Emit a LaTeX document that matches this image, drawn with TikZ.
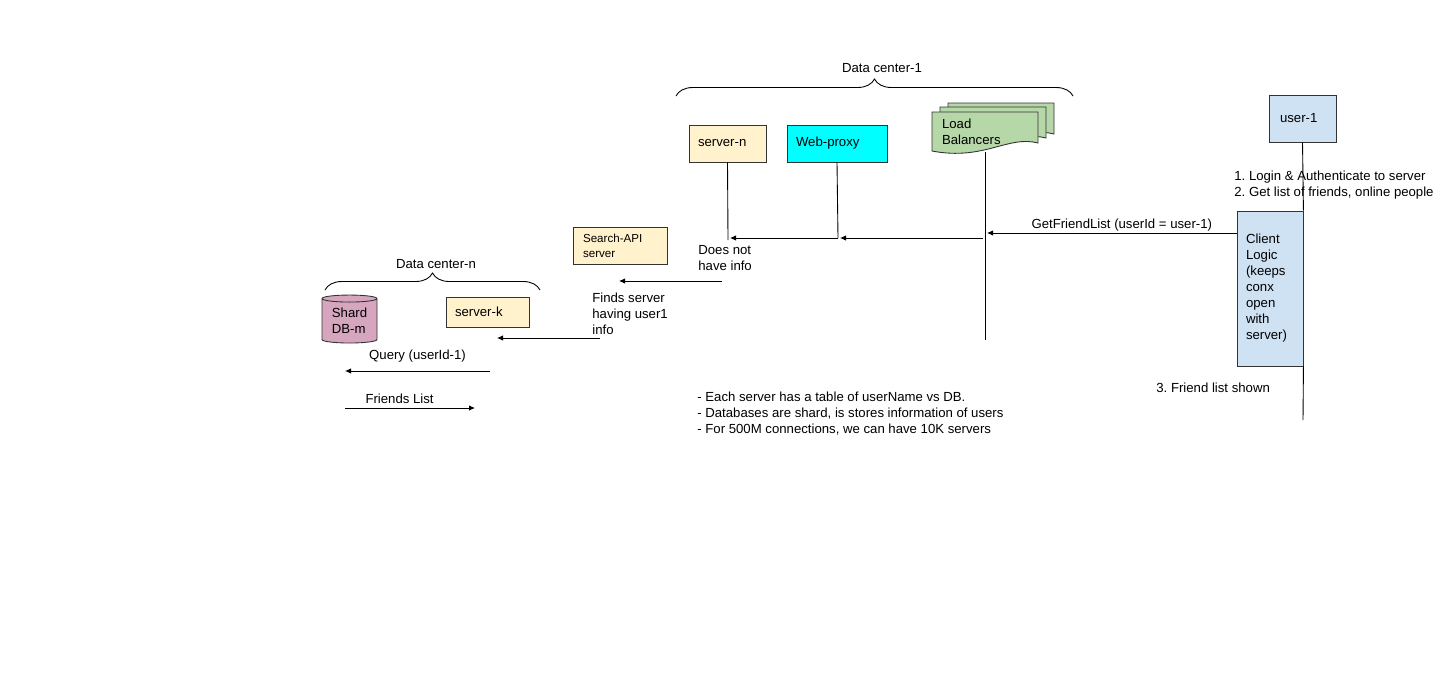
\documentclass[tikz,border=0pt]{standalone}
\usepackage{fontspec}
\setmainfont{Liberation Sans}
\usetikzlibrary{arrows.meta,shapes.geometric,decorations.pathreplacing}

\definecolor{srvyellow}{HTML}{FFF2CC}
\definecolor{proxycyan}{HTML}{00FFFF}
\definecolor{userblue}{HTML}{CFE2F3}
\definecolor{lbgreen}{HTML}{B6D7A8}
\definecolor{dbpink}{HTML}{D5A6BD}

\begin{document}
\frenchspacing
\begin{tikzpicture}[
  x=0.02cm, y=-0.02cm,
  every node/.style={font=\fontsize{7.5}{9.1}\selectfont, align=left, inner sep=0pt},
  srv/.style  ={draw=black!80, line width=0.5pt, fill=srvyellow, inner xsep=0.18cm, minimum height=0.74cm},
  proxy/.style={draw=black!80, line width=0.5pt, fill=proxycyan, inner xsep=0.18cm, minimum height=0.74cm},
  usr/.style  ={draw=black!80, line width=0.5pt, fill=userblue},
  sheet/.style={draw=black!80, line width=0.5pt, fill=lbgreen},
  db/.style   ={cylinder, shape border rotate=90, aspect=0.2, draw=black!80, line width=0.5pt, fill=dbpink, minimum width=1.1cm, minimum height=0.96cm},
  brace/.style={decorate, decoration={brace, amplitude=0.34cm}, line width=0.5pt},
  msg/.style  ={-{Latex[length=1.2mm,width=1.1mm]}, line width=0.5pt},
  life/.style ={line width=0.5pt},
]
\fill[white] (0,0) rectangle (1456,676);
\useasboundingbox (0,0) rectangle (1456,676);

% data center 1
\draw[brace] (676,96) -- (1073,96);
\node (dc1) at (882,68) {Data center-1};

\node[srv, text width=1.18cm] (srvn) at (727.5,143.5) {server-n};
\node[proxy, text width=1.64cm] (proxy) at (837,143.5) {Web-proxy};

% load balancers (stacked sheets)
\foreach \sx/\sy in {948/103, 940/107, 932/112}
  \draw[sheet] (\sx,\sy) -- ++(106,0) -- ++(0,31) .. controls +(-30,-8) and +(52,10) .. ++(-106,8) -- cycle;
\node[text width=1.72cm, inner xsep=0.2cm, minimum height=0.8cm] (lb) at (985,132) {Load\\Balancers};

% client side
\node[usr, text width=0.9cm, inner xsep=0.22cm, minimum height=0.94cm] (user) at (1302.5,118.5) {user-1};
\node[usr, text width=0.96cm, inner xsep=0.18cm, minimum height=3.1cm] (client) at (1270,288.5) {Client\\Logic\\(keeps\\conx\\open\\with\\server)};

\coordinate (lbEnd) at (985,340);
\coordinate (lbHit) at (987,233);
\coordinate (lbOut) at (983,238);
\coordinate (pxEnd) at (838,238);
\coordinate (pxHit) at (840,238);
\coordinate (snEnd) at (728,240);
\coordinate (snHit) at (730,238);
\coordinate (clEnd) at (1303,420);

\draw[life] (lb.south) -- (lbEnd);
\draw[life] (proxy.south) -- (pxEnd);
\draw[life] (srvn.south) -- (snEnd);
\draw[life] (user.south) -- (client.north east);
\draw[life] (client.south east) -- (clEnd);

\draw[msg] (client.west |- lbHit) -- node[above=0.5pt, pos=0.46] {GetFriendList (userId = user-1)} (lbHit);
\draw[msg] (lbOut) -- (pxHit);
\draw[msg] (pxEnd) -- (snHit);

\node[anchor=west] (login) at (1234,185) {1. Login \& Authenticate to server\\2. Get list of friends, online people};
\node[anchor=west] (shown) at (1156,388) {3. Friend list shown};

% search api
\node[srv, text width=1.48cm, inner xsep=0.2cm, font=\fontsize{6.6}{8.5}\selectfont] (search) at (620,245.5) {Search-API\\server};
\node[anchor=west] (noinfo) at (698,258) {Does not\\have info};
\coordinate (sqR) at (722,281);
\coordinate (sqL) at (619,281);
\draw[msg] (sqR) -- (sqL);
\node[anchor=west] (finds) at (592,314) {Finds server\\having user1\\info};
\coordinate (fkR) at (600,338);
\coordinate (fkL) at (497,338);
\draw[msg] (fkR) -- (fkL);

% data center n
\draw[brace] (325,290) -- (540,290);
\node (dcn) at (436,264) {Data center-n};
\node[db] (db) at (349.5,321) {Shard\\DB-m};
\node[srv, text width=1.3cm, minimum height=0.6cm] (srvk) at (487.5,312) {server-k};

\coordinate (qR) at (490,371);
\coordinate (qL) at (345,371);
\draw[msg] (qR) -- node[above=4.5pt] {Query (userId-1)} (qL);
\coordinate (flL) at (345,408);
\coordinate (flR) at (475,408);
\draw[msg] (flL) -- node[above=2.5pt, pos=0.42] {Friends List} (flR);

% notes
\node[anchor=west] (notes) at (697,414) {- Each server has a table of userName vs DB.\\- Databases are shard, is stores information of users\\- For 500M connections, we can have 10K servers};

\end{tikzpicture}
\end{document}
